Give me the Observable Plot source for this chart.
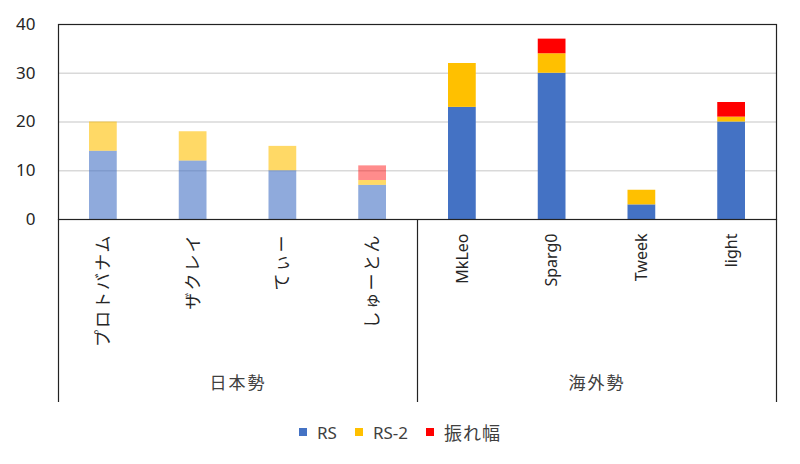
<!DOCTYPE html>
<html><head><meta charset="utf-8">
<script src="https://cdn.jsdelivr.net/npm/d3@7"></script>
<script src="https://cdn.jsdelivr.net/npm/@observablehq/plot@0.6"></script>
<style>
body{margin:0;background:#fff;font-family:"Noto Sans","Noto Sans CJK JP",sans-serif;}
#chart svg{display:block;}
g[font-family="Noto Sans CJK JP"] text{letter-spacing:2px;}
#legend{display:flex;justify-content:center;align-items:center;height:54px;margin-top:0;padding-bottom:10px;box-sizing:border-box;color:#404040;font-size:17px;}
.item{display:flex;align-items:center;margin:0 9px;}
.sw{width:8px;height:8px;margin-right:10px;}
.cjk{font-family:"Noto Sans CJK JP",sans-serif;font-size:18px;letter-spacing:1px;}
</style></head><body>
<div id="chart"></div>
<div id="legend"></div>
<script>
const players = ["プロトバナム","ザクレイ","てぃー","しゅーとん","MkLeo","Sparg0","Tweek","light"];
const groupNames = ["日本勢","海外勢"];
const groupSizes = [4,4];
const series = ["RS","RS-2","振れ幅"];
const rsValues = [14,12,10,7,23,30,3,20];
const rs2Values = [6,6,5,1,9,4,3,1];
const swingValues = [0,0,0,3,0,3,0,3];
const seriesColors = ["#4472C4","#FFC000","#FF0000"];
const lightOpacity = [0.6,0.6,0.45];
const yTicks = [0,10,20,30,40];

const playerGroup = [];
groupSizes.forEach((n,g)=>{for(let k=0;k<n;k++) playerGroup.push(g);});
const groupStarts = groupSizes.map((n,g)=>d3.sum(groupSizes.slice(0,g)));
const bounds = [...groupStarts, players.length];
const groups = groupNames.map((name,g)=>({name, center: groupStarts[g] + groupSizes[g]/2}));

const rows = [];
[rsValues, rs2Values, swingValues].forEach((vals,s)=>vals.forEach((v,i)=>{
  if (v>0) rows.push({i, s, series: series[s], value: v, group: playerGroup[i]});
}));
const labels = players.map((name,i)=>({name,i}));
const isCJK = d => /[^\x00-\x7F]/.test(d.name);

const chart = Plot.plot({
  width: 800, height: 410,
  marginLeft: 58, marginRight: 24, marginTop: 24, marginBottom: 191,
  x: {domain: [0, players.length], axis: null},
  y: {domain: [0, 40], axis: null},
  color: {domain: series, range: seriesColors},
  style: {fontFamily: "'Noto Sans','Noto Sans CJK JP',sans-serif", color: "#333"},
  marks: [
    Plot.ruleY(yTicks.slice(1, -1), {stroke: "#d9d9d9", strokeWidth: 1.3}),
    Plot.rectY(rows, Plot.stackY({x1: "i", x2: d => d.i + 1, y: "value", fill: "series",
      fillOpacity: d => d.group === 0 ? lightOpacity[d.s] : 1, insetLeft: 31, insetRight: 31})),
    Plot.frame({stroke: "#222", strokeWidth: 1.2}),
    Plot.ruleX(bounds, {x: d => d, y1: 0, y2: 0, insetBottom: -183, stroke: "#222", strokeWidth: 1.2}),
    Plot.axisY({ticks: yTicks, tickSize: 0, tickPadding: 23, fontSize: 17, fill: "#262626", label: null}),
    Plot.text(labels.filter(d => !isCJK(d)), {x: d => d.i + 0.5, text: "name", frameAnchor: "bottom",
      rotate: -90, textAnchor: "end", lineAnchor: "middle", dy: 14, fontSize: 16, fill: "#262626"}),
    Plot.text(labels.filter(isCJK), {x: d => d.i + 0.5, text: "name", frameAnchor: "bottom",
      rotate: -90, textAnchor: "end", lineAnchor: "middle", dy: 14, fontSize: 17,
      fontFamily: "Noto Sans CJK JP", fill: "#262626"}),
    Plot.text(groups, {x: "center", text: "name", frameAnchor: "bottom", dy: 164,
      lineAnchor: "middle", fontSize: 17, fontFamily: "Noto Sans CJK JP", fill: "#404040"})
  ]
});
document.getElementById("chart").appendChild(chart);

const legend = document.getElementById("legend");
series.forEach((s,k)=>{
  const item = document.createElement("div");
  item.className = "item";
  const sw = document.createElement("span");
  sw.className = "sw"; sw.style.background = seriesColors[k];
  const t = document.createElement("span");
  t.textContent = s;
  if (/[^\x00-\x7F]/.test(s)) t.className = "cjk";
  item.appendChild(sw); item.appendChild(t);
  legend.appendChild(item);
});
</script>
</body></html>
